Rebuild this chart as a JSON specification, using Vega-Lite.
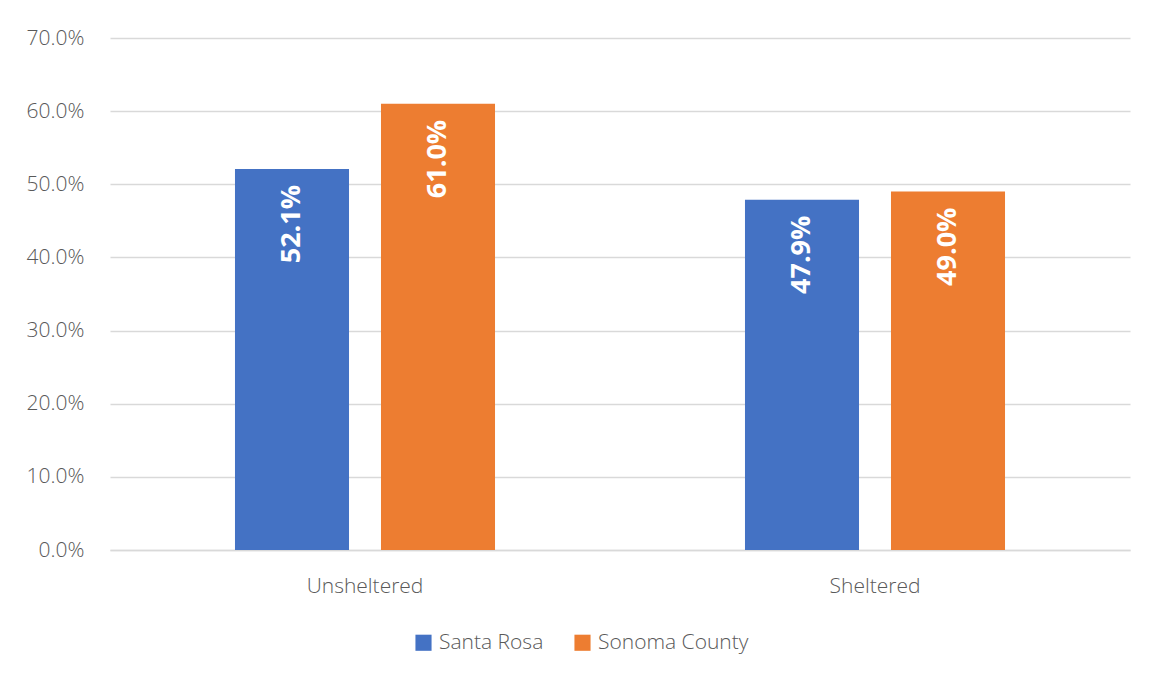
{
  "$schema": "https://vega.github.io/schema/vega-lite/v6.json",
  "width": 1020,
  "height": 512,
  "autosize": {"type": "none"},
  "padding": {"left": 110, "top": 38, "right": 20, "bottom": 131},
  "background": "white",
  "config": {
    "view": {"stroke": null},
    "font": "Open Sans",
    "axis": {"labelFont": "Open Sans", "labelColor": "#595959", "labelFontSize": 21, "labelFontWeight": 300}
  },
  "data": {
    "values": [
      {"category": "Unsheltered", "area": "Santa Rosa", "value": 0.521},
      {"category": "Unsheltered", "area": "Sonoma County", "value": 0.610},
      {"category": "Sheltered", "area": "Santa Rosa", "value": 0.479},
      {"category": "Sheltered", "area": "Sonoma County", "value": 0.490}
    ]
  },
  "encoding": {
    "x": {
      "field": "category", "type": "nominal", "sort": ["Unsheltered", "Sheltered"],
      "scale": {"paddingInner": 0, "paddingOuter": 0},
      "axis": {"title": null, "labelAngle": 0, "ticks": false, "domainColor": "#d9d9d9", "domainWidth": 1.5, "labelPadding": 25, "labelFontSize": 21, "labelFontWeight": 300}
    },
    "xOffset": {
      "field": "area", "type": "nominal", "sort": ["Santa Rosa", "Sonoma County"],
      "scale": {"paddingInner": 0.219, "paddingOuter": 0.856}
    },
    "y": {
      "field": "value", "type": "quantitative",
      "scale": {"domain": [0, 0.7]},
      "axis": {"title": null, "format": ".1%", "values": [0, 0.1, 0.2, 0.3, 0.4, 0.5, 0.6, 0.7], "domain": false, "ticks": false, "gridColor": "#d9d9d9", "gridWidth": 1.5, "labelPadding": 26, "labelFontSize": 21, "labelFontWeight": 300}
    }
  },
  "layer": [
    {
      "mark": {"type": "bar"},
      "encoding": {
        "color": {
          "field": "area", "type": "nominal", "sort": ["Santa Rosa", "Sonoma County"],
          "scale": {"domain": ["Santa Rosa", "Sonoma County"], "range": ["#4472C4", "#ED7D31"]},
          "legend": {
            "title": null, "orient": "none", "direction": "horizontal",
            "legendX": 303, "legendY": 594,
            "symbolType": "square", "symbolSize": 260, "symbolStrokeWidth": 0, "symbolOpacity": 1,
            "labelFontSize": 21, "labelFontWeight": 300, "labelColor": "#595959", "labelFont": "Open Sans", "labelOffset": 5,
            "columnPadding": 28
          }
        }
      }
    },
    {
      "mark": {"type": "text", "angle": -90, "align": "right", "baseline": "middle", "dx": -16, "color": "white", "fontWeight": "bold", "fontSize": 27, "font": "Open Sans"},
      "encoding": {
        "text": {"field": "value", "type": "quantitative", "format": ".1%"}
      }
    }
  ]
}
